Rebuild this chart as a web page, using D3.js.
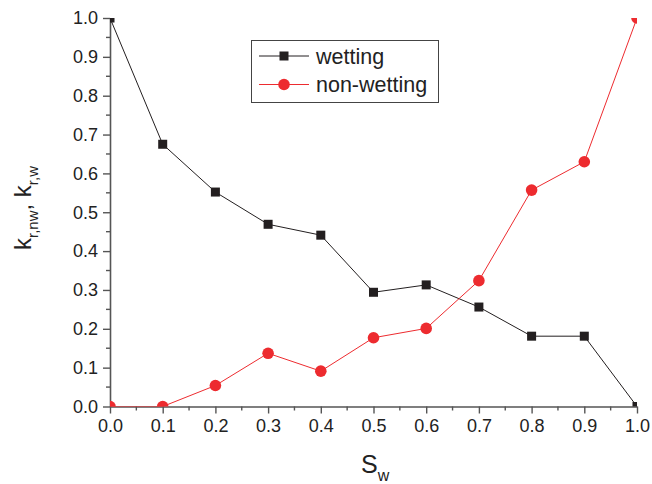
<!DOCTYPE html>
<html>
<head>
<meta charset="utf-8">
<script src="https://cdn.jsdelivr.net/npm/d3@7"></script>
<style>
  html, body { margin: 0; padding: 0; background: #fff; }
  svg { display: block; font-family: "Liberation Sans", Arial, sans-serif; }
</style>
</head>
<body>
<script>
// Relative permeability curves vs. wetting saturation
const saturation = [0.0, 0.1, 0.2, 0.3, 0.4, 0.5, 0.6, 0.7, 0.8, 0.9, 1.0];
const wetting    = [1.0, 0.675, 0.552, 0.469, 0.441, 0.294, 0.313, 0.256, 0.181, 0.181, 0.0];
const nonWetting = [0.0, 0.0, 0.054, 0.137, 0.091, 0.177, 0.201, 0.324, 0.557, 0.630, 1.0];
const majorTicks = [0.0, 0.1, 0.2, 0.3, 0.4, 0.5, 0.6, 0.7, 0.8, 0.9, 1.0];
const minorTicks = [0.05, 0.15, 0.25, 0.35, 0.45, 0.55, 0.65, 0.75, 0.85, 0.95];

const W = 652, H = 484;
const m = { left: 110, right: 15, top: 18, bottom: 77.5 };
const black = "#231f20", red = "#ed2b2f", axisCol = "#555";

const svg = d3.select("body").append("svg").attr("width", W).attr("height", H);

const x = d3.scaleLinear().domain([0, 1]).range([m.left, W - m.right]);
const y = d3.scaleLinear().domain([0, 1]).range([H - m.bottom, m.top]);

svg.append("clipPath").attr("id", "plot")
  .append("rect")
  .attr("x", m.left).attr("y", m.top)
  .attr("width", x(1) - x(0)).attr("height", y(0) - y(1));

const fmt = d3.format(".1f");

// bottom axis
const gx = svg.append("g").attr("transform", `translate(0,${y(0)})`);
gx.call(d3.axisBottom(x).tickValues(majorTicks).tickFormat(fmt).tickSize(7).tickSizeOuter(0).tickPadding(6));
gx.append("g").selectAll("line").data(minorTicks).join("line")
  .attr("x1", d => x(d)).attr("x2", d => x(d)).attr("y1", 0).attr("y2", 4);

// left axis
const gy = svg.append("g").attr("transform", `translate(${x(0)},0)`);
gy.call(d3.axisLeft(y).tickValues(majorTicks).tickFormat(fmt).tickSize(7).tickSizeOuter(0).tickPadding(5));
gy.append("g").selectAll("line").data(minorTicks).join("line")
  .attr("y1", d => y(d)).attr("y2", d => y(d)).attr("x1", 0).attr("x2", -4);

[gx, gy].forEach(g => {
  g.select(".domain").attr("stroke", axisCol).attr("stroke-width", 1.6);
  g.selectAll("line").attr("stroke", axisCol).attr("stroke-width", 1.4);
  g.selectAll("text").attr("font-size", 18).attr("fill", "#222")
    .attr("font-family", "'Liberation Sans', Arial, sans-serif");
});

// data series
const plot = svg.append("g").attr("clip-path", "url(#plot)");
const line = d3.line().x(d => x(d[0])).y(d => y(d[1]));

const wData = saturation.map((s, i) => [s, wetting[i]]);
const nData = saturation.map((s, i) => [s, nonWetting[i]]);

plot.append("path").datum(wData).attr("d", line)
  .attr("fill", "none").attr("stroke", black).attr("stroke-width", 1);
plot.append("path").datum(nData).attr("d", line)
  .attr("fill", "none").attr("stroke", red).attr("stroke-width", 1);

const sq = 9;
plot.selectAll("rect.w").data(wData).join("rect").attr("class", "w")
  .attr("x", d => x(d[0]) - sq / 2).attr("y", d => y(d[1]) - sq / 2)
  .attr("width", sq).attr("height", sq).attr("fill", black);
plot.selectAll("circle.nw").data(nData).join("circle").attr("class", "nw")
  .attr("cx", d => x(d[0])).attr("cy", d => y(d[1])).attr("r", 5.8).attr("fill", red);

// legend
const lg = svg.append("g");
lg.append("rect").attr("x", 251.5).attr("y", 40.5).attr("width", 187).attr("height", 62)
  .attr("fill", "#fff").attr("stroke", "#444").attr("stroke-width", 1);
const legendItems = [
  { label: "wetting", color: black, shape: "square", cy: 56 },
  { label: "non-wetting", color: red, shape: "circle", cy: 84.5 }
];
legendItems.forEach(it => {
  lg.append("line").attr("x1", 259).attr("x2", 309).attr("y1", it.cy).attr("y2", it.cy)
    .attr("stroke", it.color).attr("stroke-width", 1);
  if (it.shape === "square") {
    lg.append("rect").attr("x", 284 - sq / 2).attr("y", it.cy - sq / 2)
      .attr("width", sq).attr("height", sq).attr("fill", it.color);
  } else {
    lg.append("circle").attr("cx", 284).attr("cy", it.cy).attr("r", 5.8).attr("fill", it.color);
  }
  lg.append("text").attr("x", 316).attr("y", it.cy + 7.5).attr("font-size", 21.5)
    .attr("fill", "#222").text(it.label);
});

// axis titles
const xt = svg.append("text").attr("x", 361).attr("y", 473).attr("font-size", 25).attr("fill", "#222");
xt.append("tspan").text("S");
xt.append("tspan").attr("font-size", 16).attr("dy", 8).text("w");

const yt = svg.append("text").attr("transform", "translate(31,208) rotate(-90)")
  .attr("text-anchor", "middle").attr("font-size", 24).attr("fill", "#222");
yt.append("tspan").text("k");
yt.append("tspan").attr("font-size", 15).attr("dy", 7).text("r,nw");
yt.append("tspan").attr("dy", -7).text(", k");
yt.append("tspan").attr("font-size", 15).attr("dy", 7).text("r,w");
</script>
</body>
</html>
